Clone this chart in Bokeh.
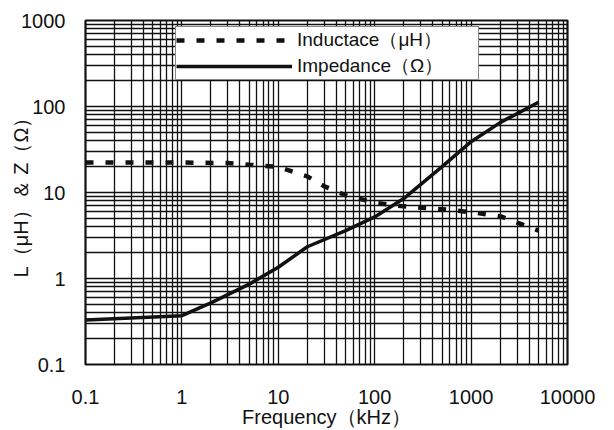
from bokeh.plotting import figure
from bokeh.models import FixedTicker
from bokeh.embed import file_html
from bokeh.resources import INLINE

# Data (frequency in kHz)
freq_L = [0.1, 1, 3, 5, 10, 20, 30, 50, 100, 200, 500, 1000, 2000, 5000]
inductance = [22.3, 22.3, 22, 21, 19.8, 15.4, 11.8, 9.3, 7.6, 6.9, 6.4, 5.9, 5.3, 3.6]

freq_Z = [0.1, 1, 2, 5, 10, 20, 50, 100, 200, 500, 1000, 2000, 5000]
impedance = [0.33, 0.37, 0.52, 0.86, 1.35, 2.34, 3.6, 5.2, 8.5, 20, 39, 65, 112]

x_ticks = [0.1, 1, 10, 100, 1000, 10000]
x_tick_labels = ["0.1", "1", "10", "100", "1000", "10000"]
y_ticks = [0.1, 1, 10, 100, 1000]
y_tick_labels = ["0.1", "1", "10", "100", "1000"]

x_minor = [m * 10.0 ** e for e in range(-1, 4) for m in range(2, 10)]
y_minor = [m * 10.0 ** e for e in range(-1, 3) for m in range(2, 10)]

p = figure(width=614, height=430, x_axis_type="log", y_axis_type="log",
           x_range=(0.1, 10000), y_range=(0.1, 1000),
           output_backend="svg", toolbar_location=None,
           min_border_left=85, min_border_right=47,
           min_border_top=20, min_border_bottom=63)

p.line(freq_L, inductance, line_color="#111111", line_width=4.5,
       line_dash="8 12", legend_label="Inductace（μH）")
p.line(freq_Z, impedance, line_color="#111111", line_width=3.5,
       legend_label="Impedance（Ω）")

p.xaxis.ticker = FixedTicker(ticks=x_ticks, minor_ticks=x_minor)
p.yaxis.ticker = FixedTicker(ticks=y_ticks, minor_ticks=y_minor)
p.xaxis.major_label_overrides = dict(zip(x_ticks, x_tick_labels))
p.yaxis.major_label_overrides = dict(zip(y_ticks, y_tick_labels))

for ax in (p.xaxis[0], p.yaxis[0]):
    ax.axis_line_color = None
    ax.major_tick_line_color = None
    ax.minor_tick_line_color = None
    ax.major_tick_out = 0
    ax.major_tick_in = 0
    ax.minor_tick_out = 0
    ax.minor_tick_in = 0
    ax.major_label_text_font = "Liberation Sans"
    ax.major_label_text_font_size = "20px"
    ax.major_label_text_color = "#111111"
    ax.axis_label_text_font = "Liberation Sans"
    ax.axis_label_text_font_size = "20px"
    ax.axis_label_text_font_style = "normal"
    ax.axis_label_text_color = "#111111"

p.xaxis.axis_label = "Frequency（kHz）"
p.yaxis.axis_label = "L（μH）＆ Z（Ω）"
p.xaxis.major_label_standoff = 25
p.xaxis.axis_label_standoff = -1
p.yaxis.major_label_standoff = 20
p.yaxis.axis_label_standoff = -14

for g in (p.xgrid[0], p.ygrid[0]):
    g.grid_line_color = "#111111"
    g.grid_line_width = 1.3
    g.grid_line_alpha = 1.0
    g.minor_grid_line_color = "#111111"
    g.minor_grid_line_width = 1.3

p.outline_line_color = "#111111"
p.outline_line_width = 2.2

lg = p.legend[0]
lg.location = (90, 284)
lg.padding = 0
lg.spacing = 0
lg.glyph_width = 116
lg.glyph_height = 20
lg.label_height = 20
lg.label_standoff = 5
lg.label_width = 181
lg.label_text_font = "Liberation Sans"
lg.label_text_font_size = "19px"
lg.label_text_color = "#111111"
lg.border_line_color = "#111111"
lg.border_line_width = 1.5
lg.background_fill_color = "white"
lg.background_fill_alpha = 1.0
lg.margin = 0

p.background_fill_color = "white"
p.border_fill_color = "white"

open("out.html", "w").write(file_html(p, INLINE))
